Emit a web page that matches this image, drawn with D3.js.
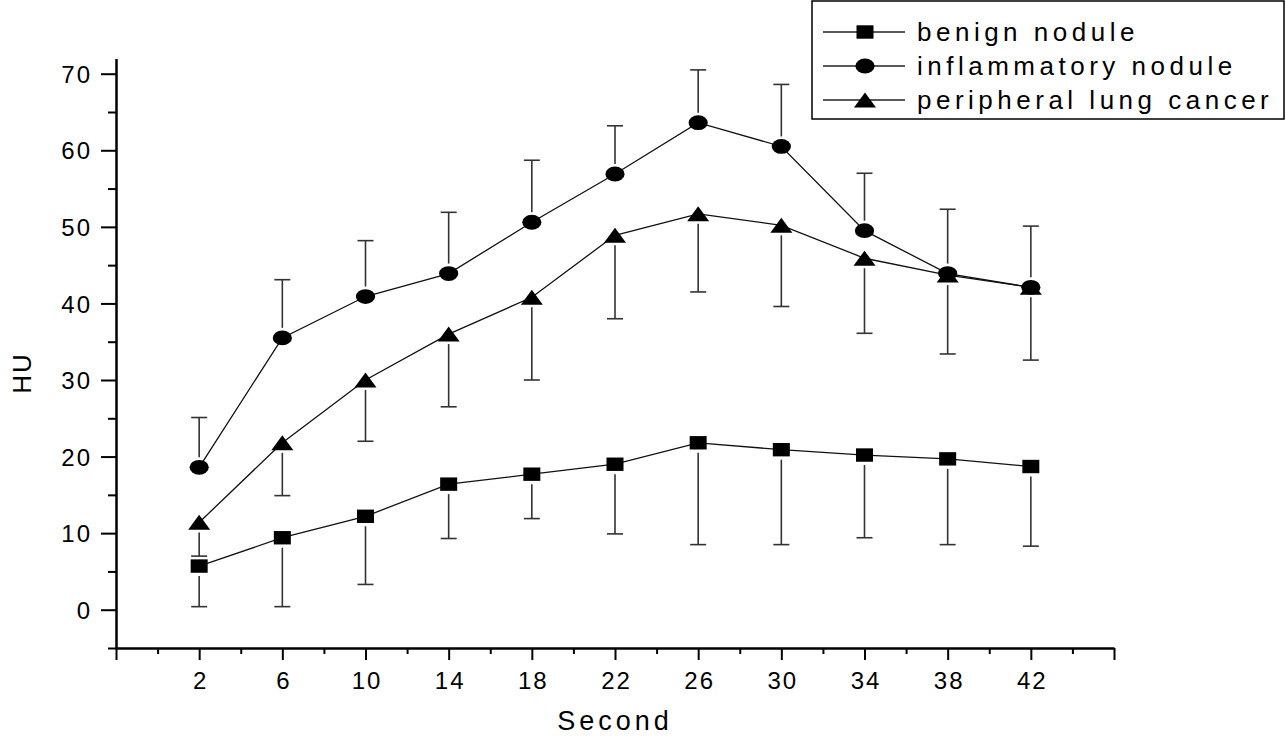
<!DOCTYPE html>
<html>
<head>
<meta charset="utf-8">
<script src="https://cdn.jsdelivr.net/npm/d3@7"></script>
<style>
  body { margin: 0; background: #fff; }
  svg text { font-family: "Liberation Sans", Arial, Helvetica, sans-serif; fill: #000; }
</style>
</head>
<body>
<script>
// time points (s)
const seconds = [2, 6, 10, 14, 18, 22, 26, 30, 34, 38, 42];

// mean HU and error (sd) per group
const benignMean = [5.7, 9.4, 12.2, 16.4, 17.7, 19.0, 21.8, 20.9, 20.2, 19.7, 18.7];
const benignErr = [5.3, 9.0, 8.9, 7.1, 5.8, 9.1, 13.3, 12.4, 10.8, 11.2, 10.4];

const inflamMean = [18.6, 35.5, 40.9, 43.9, 50.6, 56.9, 63.6, 60.5, 49.5, 43.9, 42.1];
const inflamErr = [6.5, 7.6, 7.3, 8.0, 8.1, 6.3, 6.9, 8.1, 7.5, 8.4, 8.0];

const cancerMean = [11.4, 21.8, 30.0, 36.0, 40.8, 48.9, 51.7, 50.2, 45.9, 43.7, 42.1];
const cancerErr = [4.4, 6.9, 8.0, 9.5, 10.8, 10.9, 10.2, 10.6, 9.8, 10.3, 9.5];

const groupNames = ["benign nodule", "inflammatory nodule", "peripheral lung cancer"];

const xMajor = [-2, 2, 6, 10, 14, 18, 22, 26, 30, 34, 38, 42, 46];
const xMinor = [0, 4, 8, 12, 16, 20, 24, 28, 32, 36, 40, 44];
const yMajor = [0, 10, 20, 30, 40, 50, 60, 70];
const yMinor = [-5, 5, 15, 25, 35, 45, 55, 65];

function main(){
    const W = 1286, H = 736;
    const svg = d3.select("body").append("svg")
        .attr("width", W)
        .attr("height", H);

    const x = d3.scaleLinear().domain([-2, 46]).range([116, 1114]);
    const y = d3.scaleLinear().domain([-5, 72]).range([648, 58.4]);

    // series: symbol + which side the error bar goes
    const series = [
        {name: groupNames[0], mean: benignMean, err: benignErr, sym: "square", dir: -1},
        {name: groupNames[1], mean: inflamMean, err: inflamErr, sym: "circle", dir: 1},
        {name: groupNames[2], mean: cancerMean, err: cancerErr, sym: "triangle", dir: -1}
    ];

    // axes
    const axisStyle = g => {
        g.select(".domain").attr("stroke", "#000").attr("stroke-width", 2);
        g.selectAll(".tick line").attr("stroke", "#000").attr("stroke-width", 2);
        g.selectAll(".tick text")
            .attr("font-size", 24)
            .attr("letter-spacing", "2px")
            .attr("font-family", "Liberation Sans, Arial, sans-serif")
            .attr("fill", "#000");
    };

    svg.append("g")
        .attr("transform", "translate(116,0)")
        .call(d3.axisLeft(y).tickValues(yMinor).tickSize(8).tickSizeOuter(0).tickFormat(""))
        .call(axisStyle);

    const yAx = svg.append("g")
        .attr("transform", "translate(116,0)")
        .call(d3.axisLeft(y).tickValues(yMajor).tickSize(15).tickSizeOuter(0).tickPadding(12))
        .call(axisStyle);
    yAx.selectAll(".tick text").attr("dy", "0.36em").attr("dx", "3px");

    svg.append("g")
        .attr("transform", "translate(0,648)")
        .call(d3.axisBottom(x).tickValues(xMinor).tickSize(6).tickSizeOuter(0).tickFormat(""))
        .call(axisStyle);

    const xAx = svg.append("g")
        .attr("transform", "translate(0,648)")
        .call(d3.axisBottom(x).tickValues(xMajor).tickSize(12).tickSizeOuter(0)
            .tickFormat(d => (d < 2 || d > 42) ? "" : d))
        .call(axisStyle);
    xAx.selectAll(".tick text").attr("y", 41).attr("dy", 0).attr("dx", "1px");

    // axis titles
    svg.append("text")
        .attr("x", 615)
        .attr("y", 730)
        .attr("text-anchor", "middle")
        .attr("font-size", 27)
        .attr("letter-spacing", "4px")
        .text("Second");

    svg.append("text")
        .attr("transform", "translate(31,373) rotate(-90)")
        .attr("text-anchor", "middle")
        .attr("font-size", 26)
        .attr("letter-spacing", "2px")
        .text("HU");

    const symbol = (g, type, cx, cy) => {
        if (type === "square") {
            g.append("rect").attr("x", cx - 8.5).attr("y", cy - 6.7)
                .attr("width", 17).attr("height", 13.4).attr("fill", "#000");
        } else if (type === "circle") {
            g.append("ellipse").attr("cx", cx).attr("cy", cy)
                .attr("rx", 9.6).attr("ry", 7.4).attr("fill", "#000");
        } else {
            g.append("path")
                .attr("d", `M${cx},${cy - 7.6}L${cx + 11},${cy + 7.4}L${cx - 11},${cy + 7.4}Z`)
                .attr("fill", "#000");
        }
    };

    const line = d3.line().x(d => x(d.s)).y(d => y(d.v));
    const plot = svg.append("g");

    series.forEach(s => {
        const pts = seconds.map((t, i) => ({s: t, v: s.mean[i], e: s.err[i]}));
        plot.append("path")
            .datum(pts)
            .attr("d", line)
            .attr("fill", "none")
            .attr("stroke", "#111")
            .attr("stroke-width", 1.3);
    });

    // error bars (one-sided)
    series.forEach(s => {
        const eg = plot.append("g").attr("stroke", "#333").attr("stroke-width", 1.6);
        seconds.forEach((t, i) => {
            const cx = x(t);
            const start = y(s.mean[i]) - s.dir * 10;
            const end = y(s.mean[i] + s.dir * s.err[i]);
            eg.append("line").attr("x1", cx).attr("x2", cx).attr("y1", start).attr("y2", end);
            eg.append("line").attr("x1", cx - 8).attr("x2", cx + 8).attr("y1", end).attr("y2", end);
        });
    });

    // markers: triangles first so circles sit on top where they overlap
    [series[0], series[2], series[1]].forEach(s => {
        const mg = plot.append("g");
        seconds.forEach((t, i) => symbol(mg, s.sym, x(t), y(s.mean[i])));
    });

    // legend
    const lg = svg.append("g");
    lg.append("rect")
        .attr("x", 812).attr("y", 1)
        .attr("width", 472).attr("height", 118)
        .attr("fill", "#fff")
        .attr("stroke", "#000")
        .attr("stroke-width", 1.5);

    const rowY = [32, 66, 100];
    series.forEach((s, i) => {
        lg.append("line")
            .attr("x1", 823).attr("x2", 905)
            .attr("y1", rowY[i]).attr("y2", rowY[i])
            .attr("stroke", "#222").attr("stroke-width", 1.3);
        symbol(lg, s.sym, 865, rowY[i]);
        lg.append("text")
            .attr("x", 917)
            .attr("y", rowY[i])
            .attr("dy", "0.33em")
            .attr("font-size", 26)
            .attr("letter-spacing", "4.5px")
            .text(s.name);
    });
}
main();
</script>
</body>
</html>
